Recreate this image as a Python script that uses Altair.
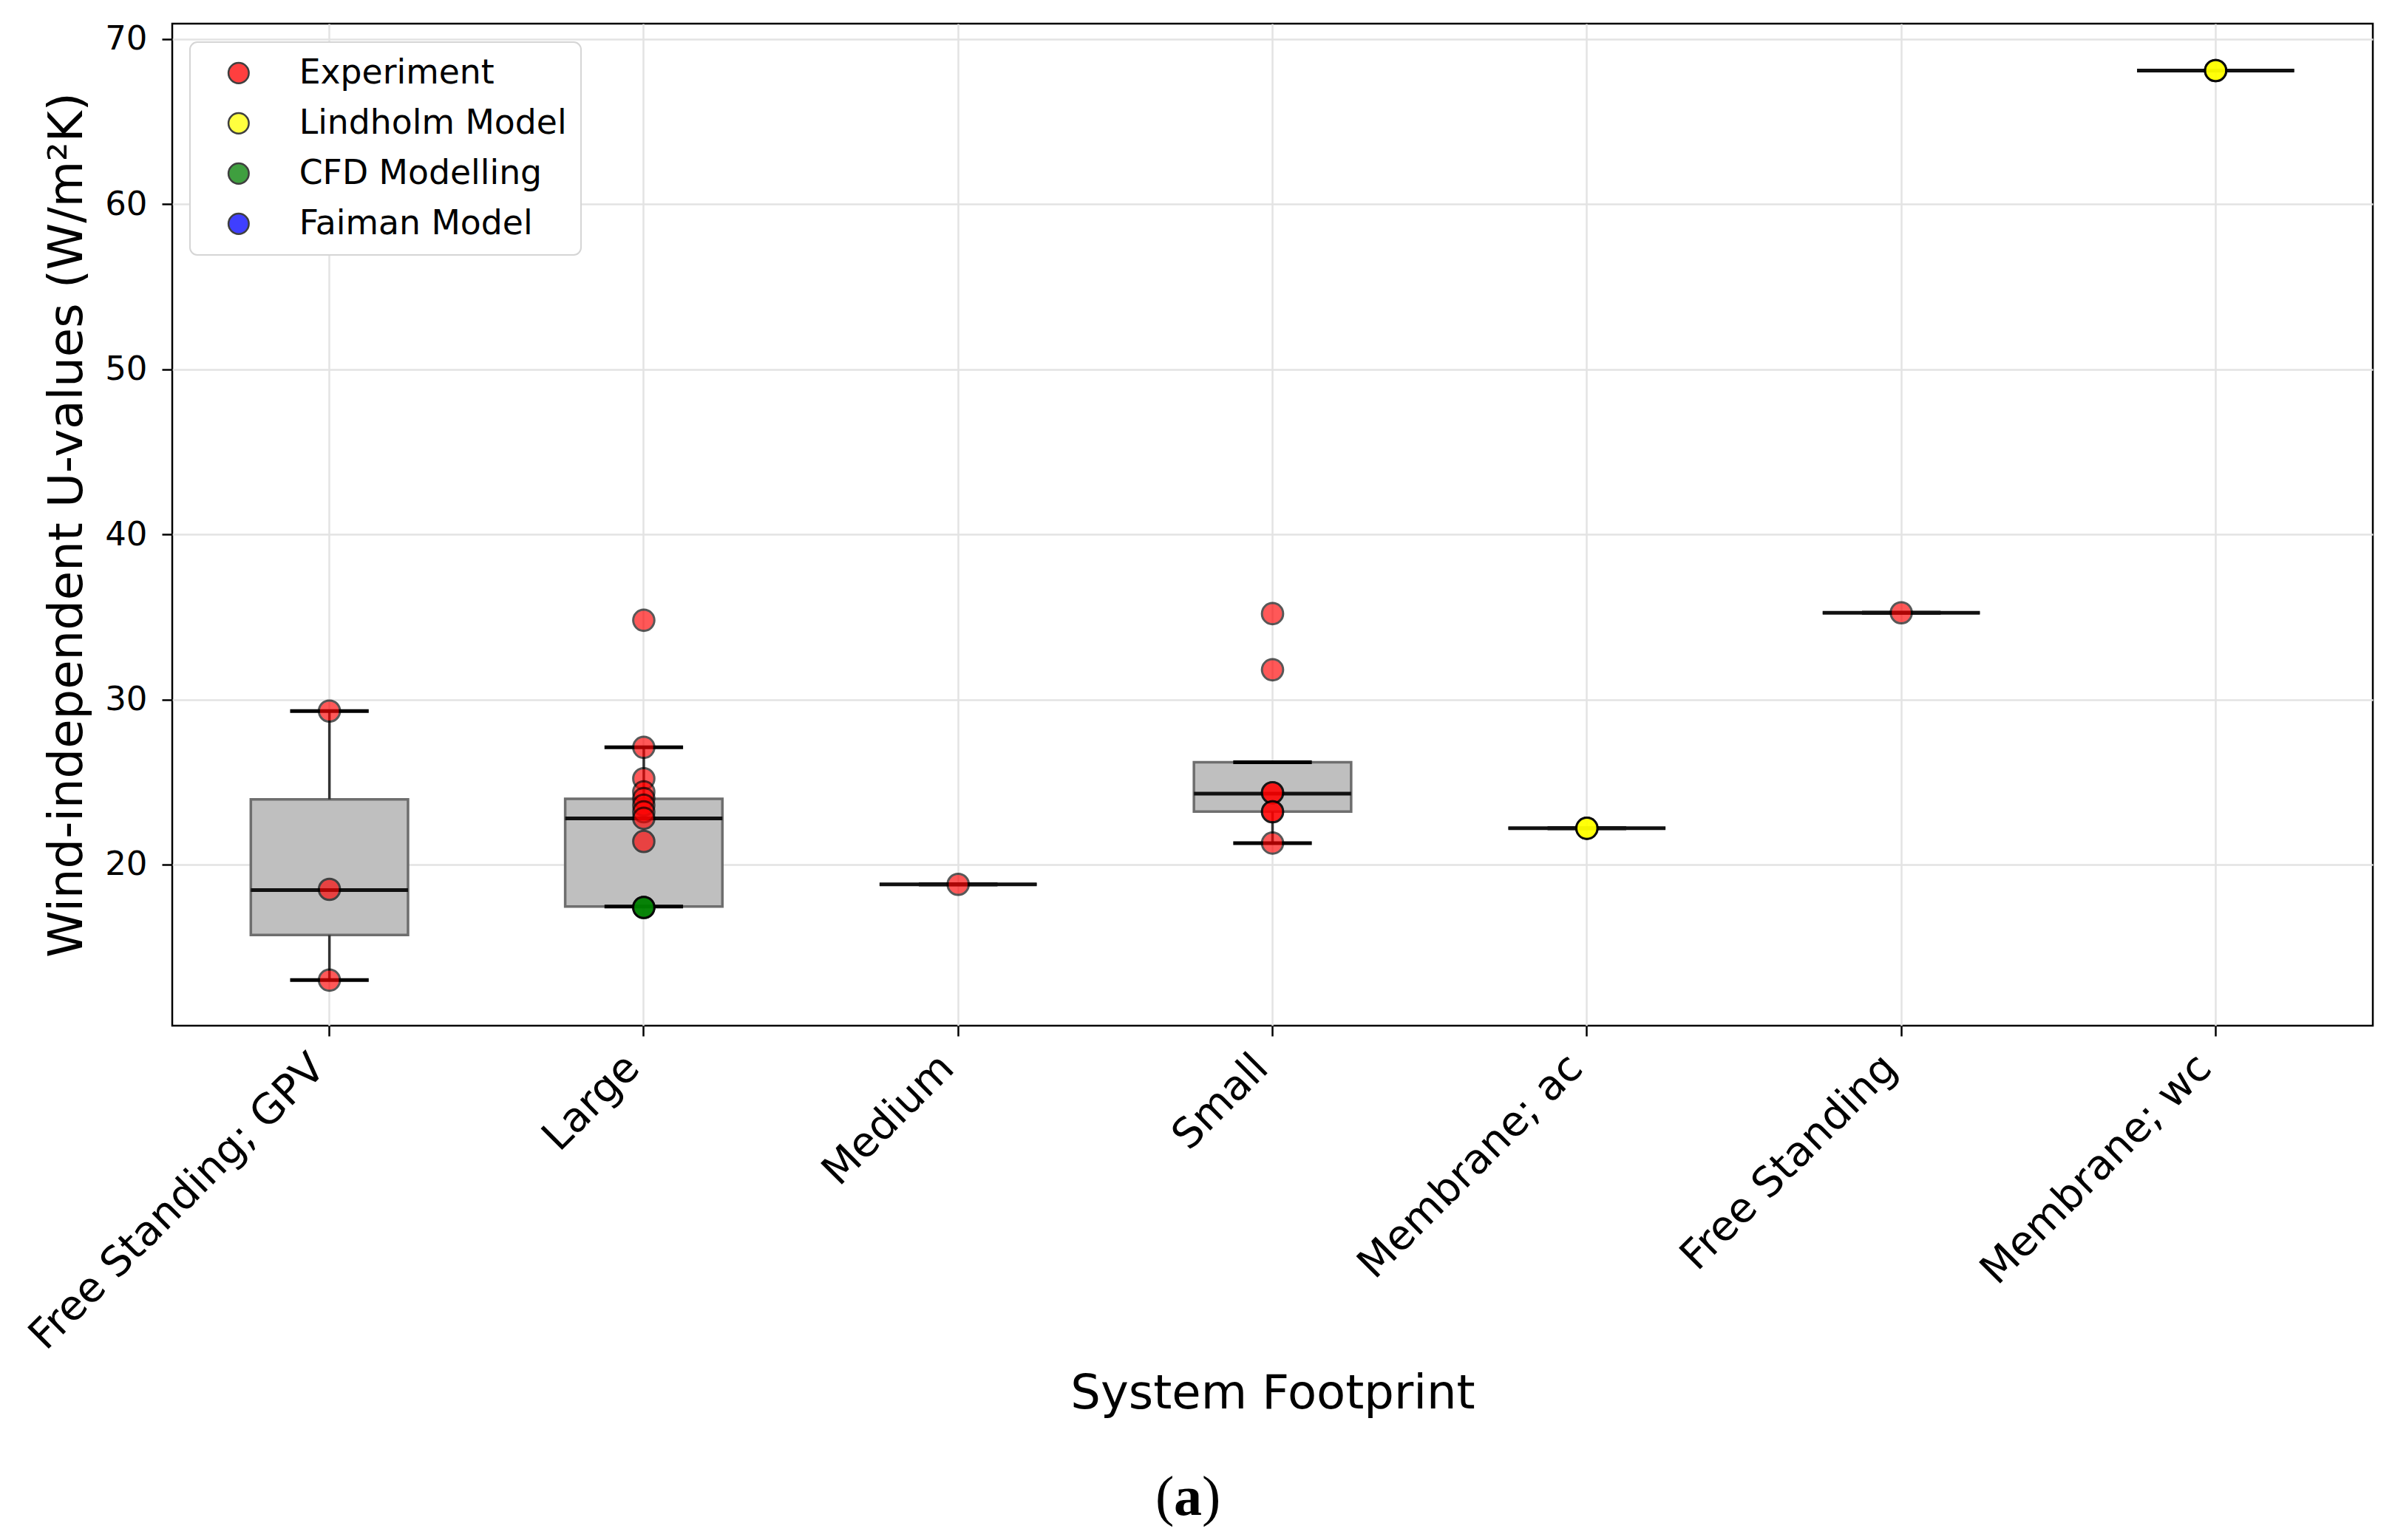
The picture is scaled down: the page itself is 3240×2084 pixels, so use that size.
import altair as alt
import pandas as pd

# ---- data ----
categories = ["Free Standing; GPV", "Large", "Medium", "Small",
              "Membrane; ac", "Free Standing", "Membrane; wc"]

# box statistics per category
box_q1 = [15.73, 17.46, 18.8, 23.21, 22.2, 35.25, 68.1]
box_median = [18.45, 22.8, 18.8, 24.3, 22.2, 35.25, 68.1]
box_q3 = [23.95, 23.98, 18.8, 26.2, 22.2, 35.25, 68.1]
whisker_low = [13.0, 17.46, 18.8, 21.3, 22.2, 35.25, 68.1]
whisker_high = [29.3, 27.1, 18.8, 26.2, 22.2, 35.25, 68.1]

# individual points
point_cat = (["Free Standing; GPV"] * 3
             + ["Large"] * 12
             + ["Medium"]
             + ["Small"] * 7
             + ["Membrane; ac"] * 3
             + ["Free Standing"]
             + ["Membrane; wc"] * 3)
point_value = ([29.3, 18.5, 13.0]
               + [34.8, 27.1, 25.2, 24.4, 24.0, 23.6, 23.2, 22.8, 21.4, 17.4, 17.4, 17.4]
               + [18.8]
               + [35.2, 31.8, 24.35, 24.35, 23.2, 23.2, 21.3]
               + [22.2, 22.2, 22.2]
               + [35.25]
               + [68.1, 68.1, 68.1])
point_type = (["Experiment"] * 3
              + ["Experiment"] * 9 + ["CFD Modelling"] * 3
              + ["Experiment"]
              + ["Experiment"] * 7
              + ["Lindholm Model"] * 3
              + ["Experiment"]
              + ["Lindholm Model"] * 3)

legend_types = ["Experiment", "Lindholm Model", "CFD Modelling", "Faiman Model"]
legend_colors = ["#ff0000", "#ffff00", "#008000", "#0000ff"]

y_ticks = [20, 30, 40, 50, 60, 70]
y_domain = [10.24, 70.94]

x_title = "System Footprint"
y_title = "Wind-independent U-values (W/m²K)"

# ---- layout ----
W = 2977
H = 1356

box_df = pd.DataFrame({
    "cat": categories, "q1": box_q1, "med": box_median, "q3": box_q3,
    "lo": whisker_low, "hi": whisker_high,
})
pts_df = pd.DataFrame({"cat": point_cat, "val": point_value, "type": point_type})

xscale = alt.Scale(type="band", domain=categories, paddingInner=0, paddingOuter=0)
yscale = alt.Scale(domain=y_domain, nice=False, zero=False)

x_axis = alt.Axis(
    title=x_title, labelAngle=-45, labelAlign="right", labelBaseline="alphabetic",
    labelFontSize=56, labelOffset=-3, labelPadding=46, labelOverlap=False,
    labelLimit=1500, tickSize=14, bandPosition=0.5, grid=True,
    titleFontSize=64, titleX=W / 2, titleY=517, titleBaseline="alphabetic",
    titleAlign="center",
)
y_axis = alt.Axis(
    title=y_title, values=y_ticks, format="d", labelFontSize=45, tickSize=14,
    labelPadding=20, grid=True, titleFontSize=64, titleAngle=-90,
    titleX=-123, titleY=H / 2, titleBaseline="alphabetic", titleAlign="center",
)

X = alt.X("cat:N", sort=categories, scale=xscale, axis=x_axis)

box = alt.Chart(box_df).mark_bar(
    size=W / 7 / 2, color="#bfbfbf", stroke="#6e6e6e", strokeWidth=3.5
).encode(
    x=X,
    y=alt.Y("q1:Q", scale=yscale, axis=y_axis),
    y2="q3:Q",
)

whisk_up = alt.Chart(box_df).mark_rule(color="#333333", strokeWidth=3.5).encode(
    x=X, y=alt.Y("q3:Q", scale=yscale, axis=y_axis), y2="hi:Q"
)
whisk_dn = alt.Chart(box_df).mark_rule(color="#333333", strokeWidth=3.5).encode(
    x=X, y=alt.Y("lo:Q", scale=yscale, axis=y_axis), y2="q1:Q"
)
cap_hi = alt.Chart(box_df).mark_tick(color="black", size=W / 7 / 4, thickness=5, opacity=1).encode(
    x=X, y=alt.Y("hi:Q", scale=yscale, axis=y_axis)
)
cap_lo = alt.Chart(box_df).mark_tick(color="black", size=W / 7 / 4, thickness=5, opacity=1).encode(
    x=X, y=alt.Y("lo:Q", scale=yscale, axis=y_axis)
)
median = alt.Chart(box_df).mark_tick(color="#111111", size=W / 7 / 2, thickness=5, opacity=1).encode(
    x=X, y=alt.Y("med:Q", scale=yscale, axis=y_axis)
)

points = alt.Chart(pts_df).mark_circle(
    size=820, stroke="black", strokeWidth=3, opacity=0.65
).encode(
    x=X,
    y=alt.Y("val:Q", scale=yscale, axis=y_axis),
    fill=alt.Fill(
        "type:N",
        scale=alt.Scale(domain=legend_types, range=legend_colors),
        legend=alt.Legend(
            orient="none", legendX=24, legendY=25, title=None,
            labelFontSize=45.7, labelFont="DejaVu Sans", labelColor="black",
            labelLimit=1000, symbolType="circle", symbolSize=760,
            symbolStrokeColor="black", symbolStrokeWidth=2.5, symbolOpacity=0.75,
            padding=19, rowPadding=21, symbolOffset=24, labelOffset=59,
            fillColor="white", strokeColor="#d5d5d5", cornerRadius=10,
        ),
    ),
)

cap_df = pd.DataFrame({"t": ["x"]})
cap1 = alt.Chart(cap_df).mark_text(
    text="(", font="Liberation Serif", fontSize=76, align="left", baseline="alphabetic", color="black"
).encode(x=alt.value(1330), y=alt.value(2018))
cap2 = alt.Chart(cap_df).mark_text(
    text="a", font="Liberation Serif", fontSize=76, fontWeight="bold", align="left",
    baseline="alphabetic", color="black"
).encode(x=alt.value(1355), y=alt.value(2018))
cap3 = alt.Chart(cap_df).mark_text(
    text=")", font="Liberation Serif", fontSize=76, align="left", baseline="alphabetic", color="black"
).encode(x=alt.value(1393), y=alt.value(2018))

chart = alt.layer(
    box, whisk_up, whisk_dn, cap_hi, cap_lo, median, points, cap1, cap2, cap3
).properties(
    width=W, height=H,
    autosize=alt.AutoSizeParams(type="none"),
    padding={"left": 225, "top": 24, "right": 20, "bottom": 680},
).configure_view(
    stroke="black", strokeWidth=2.5
).configure_axis(
    domain=False, tickColor="black", tickWidth=2.5, gridColor="#e3e3e3", gridWidth=2.5,
    labelColor="black", titleColor="black", labelFont="DejaVu Sans", titleFont="DejaVu Sans",
    titleFontWeight="normal",
).configure_legend(
    strokeWidth=2
)

chart.save("out.html", embed_options={"renderer": "svg", "actions": False})
